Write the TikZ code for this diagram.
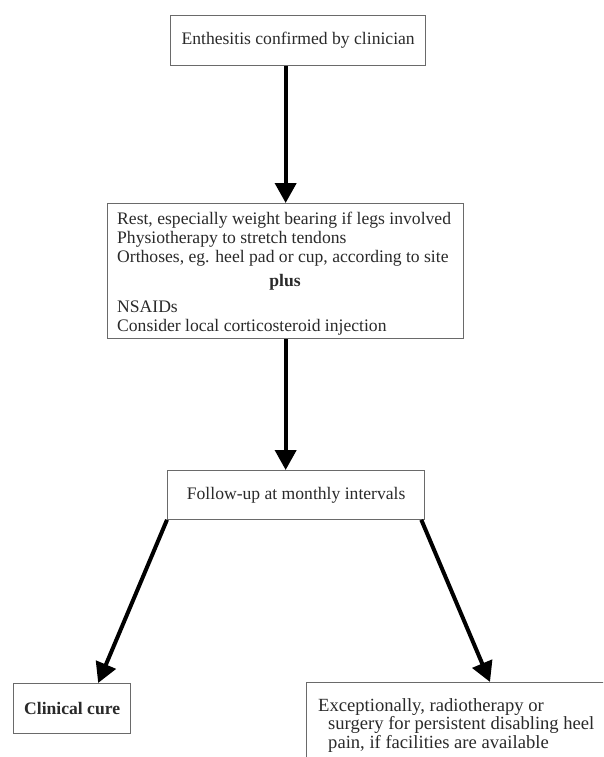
\documentclass[tikz,border=0pt]{standalone}
\usepackage{fontspec}
\setmainfont{Liberation Serif}
\usetikzlibrary{arrows.meta,calc}
\definecolor{txt}{HTML}{2A2A2A}
\definecolor{frame}{HTML}{6A6A6A}
\tikzset{
  box/.style={draw=frame, line width=1.3pt, fill=white, text=txt, inner sep=0pt,
    font=\fontsize{17.6}{19}\selectfont},
  plain/.style={text=txt, inner sep=0pt, align=left, font=\fontsize{17.6}{19}\selectfont},
  flow/.style={line width=4pt, draw=black,
    -{Triangle[length=20pt,width=21pt]}},
}
\begin{document}
\begin{tikzpicture}[x=1pt,y=-1pt]
\clip (0,0) rectangle (603,757);
\fill[white] (0,0) rectangle (603,757);
% boxes
\node[box, minimum width=255pt, minimum height=50pt, anchor=north west] (b1) at (170,15)
  {Enthesitis confirmed by clinician};
\node[box, minimum width=356pt, minimum height=135pt, anchor=north west] (b2) at (107,203) {};
\node[plain, anchor=base west] (t2) at (117,262)
  {Rest, especially weight bearing if legs involved\\
   Physiotherapy to stretch tendons\\
   Orthoses, eg. heel pad or cup, according to site};
\node[plain, anchor=base, font=\fontsize{17.6}{19}\selectfont\bfseries] (plus) at (285,286) {plus};
\node[plain, anchor=base west] (t3) at (117,331)
  {NSAIDs\\
   Consider local corticosteroid injection};
\node[box, minimum width=257pt, minimum height=49pt, anchor=north west] (b3) at (167,470)
  {Follow-up at monthly intervals};
\node[box, minimum width=117pt, minimum height=50pt, anchor=north west,
  font=\fontsize{17.6}{19}\selectfont\bfseries] (cure) at (13,683) {Clinical cure};
\node[box, minimum width=340pt, minimum height=110pt, anchor=north west] (b5) at (306,682) {};
\node[plain, anchor=base west, font=\fontsize{18.6}{18.5}\selectfont] (t5) at (318,748)
  {Exceptionally, radiotherapy or\\
   \hspace*{10pt}surgery for persistent disabling heel\\
   \hspace*{10pt}pain, if facilities are available};
% connectors
\coordinate (c1) at ($(cure.north west)!0.72!(cure.north east)$);
\coordinate (c2) at ($(b5.north west)+(184,0)$);
\coordinate (s1) at ($(b3.south west)+(0,-0.5)$);
\coordinate (s2) at ($(b3.south east)+(-4,-0.5)$);
\draw[flow] (b2.north |- b1.south) -- (b2.north);
\draw[flow] (b2.south) -- (b2.south |- b3.north);
\draw[flow] (s1) -- (c1);
\draw[flow] (s2) -- (c2);
\end{tikzpicture}
\end{document}
